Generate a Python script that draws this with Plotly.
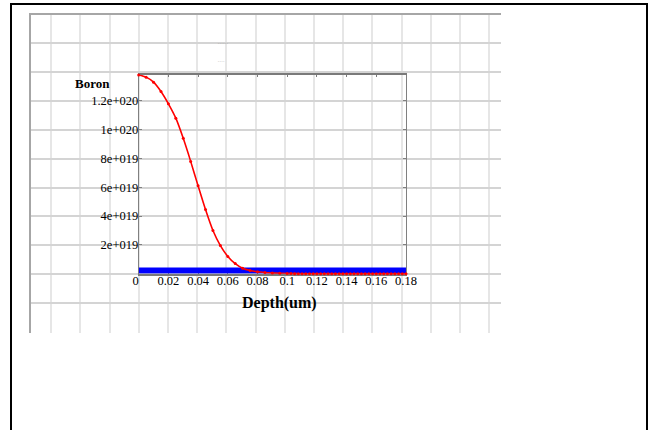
import plotly.graph_objects as go

# ---- data ----
depth_um = [0.000, 0.005, 0.010, 0.015, 0.020, 0.025, 0.030, 0.035, 0.040, 0.045,
            0.050, 0.055, 0.060, 0.065, 0.070, 0.075, 0.080, 0.085, 0.090, 0.095,
            0.1000, 0.1025, 0.1050, 0.1075, 0.1100, 0.1125, 0.1150, 0.1175, 0.1200, 0.1225,
            0.1250, 0.1275, 0.1300, 0.1325, 0.1350, 0.1375, 0.1400, 0.1425, 0.1450, 0.1475,
            0.1500, 0.1525, 0.1550, 0.1575, 0.1600, 0.1625, 0.1650, 0.1675, 0.1700, 0.1725,
            0.1750, 0.1775, 0.1800]
boron = [1.38e20, 1.365e20, 1.33e20, 1.265e20, 1.18e20, 1.08e20, 9.4e19, 7.8e19, 6.1e19, 4.45e19,
         3.0e19, 1.95e19, 1.2e19, 7.0e18, 3.8e18, 2.2e18, 1.3e18, 8e17, 5e17, 3e17,
         1.5e17, 1e17, 5e16, 0, 0, 0, 0, 0, 0, 0,
         0, 0, 0, 0, 0, 0, 0, 0, 0, 0,
         0, 0, 0, 0, 0, 0, 0, 0, 0, 0,
         0, 0, 0]
substrate_x = [0.0, 0.18]
substrate_level = [2.3e18, 2.3e18]

x_ticks = [0, 0.02, 0.04, 0.06, 0.08, 0.1, 0.12, 0.14, 0.16, 0.18]
x_tick_labels = ["0\u00a0\u00a0", "0.02", "0.04", "0.06", "0.08", "0.1", "0.12", "0.14", "0.16", "0.18"]
y_ticks = [2e19, 4e19, 6e19, 8e19, 1e20, 1.2e20]
y_tick_labels = ["2e+019", "4e+019", "6e+019", "8e+019", "1e+020", "1.2e+020"]

W, H = 654, 430
SERIF = "Liberation Serif, Times New Roman, serif"

def px_x(p):
    return p / W

def px_y(p):
    return 1 - p / H

fig = go.Figure()

# invisible trace to anchor the background spreadsheet grid
fig.add_trace(go.Scatter(x=[None], y=[None], xaxis="x", yaxis="y", showlegend=False, hoverinfo="skip"))

fig.add_trace(go.Scatter(
    x=substrate_x, y=substrate_level, xaxis="x2", yaxis="y2", mode="lines",
    line=dict(color="#0000ff", width=6), showlegend=False))
fig.add_trace(go.Scatter(
    x=depth_um, y=boron, xaxis="x2", yaxis="y2", mode="lines+markers", cliponaxis=False,
    line=dict(color="#ff0000", width=1.6, shape="spline", smoothing=0.8),
    marker=dict(color="#ff0000", size=3), showlegend=False))

fig.update_layout(
    width=W, height=H,
    autosize=False,
    margin=dict(l=0, r=0, t=0, b=0, pad=0, autoexpand=False),
    paper_bgcolor="white",
    plot_bgcolor="rgba(0,0,0,0)",
    showlegend=False,
    # spreadsheet-like background grid
    xaxis=dict(domain=[px_x(31), px_x(501)], range=[0, 470], side="top", automargin=False,
               tick0=20.2, dtick=29.2, showgrid=True, gridcolor="#e6e6e6", gridwidth=1.5,
               showticklabels=False, ticks="", zeroline=False,
               showline=True, linecolor="#a6a6a6", linewidth=2, fixedrange=True),
    yaxis=dict(domain=[px_y(333), px_y(15)], range=[318, 0], anchor="x", automargin=False,
               tick0=28, dtick=28.9, showgrid=True, gridcolor="#d4d4d4", gridwidth=1.5,
               showticklabels=False, ticks="", zeroline=False,
               showline=True, linecolor="#a6a6a6", linewidth=2, fixedrange=True),
    # data axes
    xaxis2=dict(domain=[px_x(138.7), px_x(406)], range=[0, 0.18], anchor="y2", automargin=False,
                tickvals=x_ticks, ticktext=x_tick_labels, showgrid=False, zeroline=False,
                showline=True, mirror="allticks", linecolor="#7a7a7a", linewidth=1.5,
                ticks="inside", ticklen=3, tickcolor="#7a7a7a", layer="below traces",
                tickfont=dict(family=SERIF, size=12.5, color="black"), ticklabelstandoff=-5),
    yaxis2=dict(domain=[px_y(273.7), px_y(74.7)], range=[0, 1.382e20], anchor="x2", automargin=False,
                tickvals=y_ticks, ticktext=y_tick_labels, showgrid=False, zeroline=False,
                showline=True, mirror="allticks", linecolor="#808080", linewidth=1,
                ticks="inside", ticklen=3, tickcolor="#808080", layer="below traces",
                tickfont=dict(family=SERIF, size=12.5, color="black"), ticklabelstandoff=-3),
    shapes=[dict(type="rect", xref="paper", yref="paper",
                 x0=px_x(11), x1=px_x(647), y0=-0.03, y1=px_y(4),
                 line=dict(color="black", width=2), fillcolor="rgba(0,0,0,0)", layer="above")],
    annotations=[
        dict(text="<b>Depth(um)</b>", x=px_x(279), y=px_y(303), xref="paper", yref="paper",
             showarrow=False, xanchor="center", yanchor="middle",
             font=dict(family=SERIF, size=16, color="black")),
        dict(text="<b>Boron</b>", x=px_x(92.7), y=px_y(84), xref="paper", yref="paper",
             showarrow=False, xanchor="center", yanchor="middle",
             font=dict(family=SERIF, size=13, color="black")),
        dict(text="- - - - - -", x=px_x(223), y=px_y(40), xref="paper", yref="paper",
             showarrow=False, font=dict(family=SERIF, size=3, color="#888888")),
        dict(text="- - - -", x=px_x(221), y=px_y(58), xref="paper", yref="paper",
             showarrow=False, font=dict(family=SERIF, size=3, color="#888888")),
    ],
)

fig.write_html(
    "out.html",
    config={"displayModeBar": False, "responsive": False},
    post_script="document.body.style.margin='0';document.body.style.overflow='hidden';",
)
